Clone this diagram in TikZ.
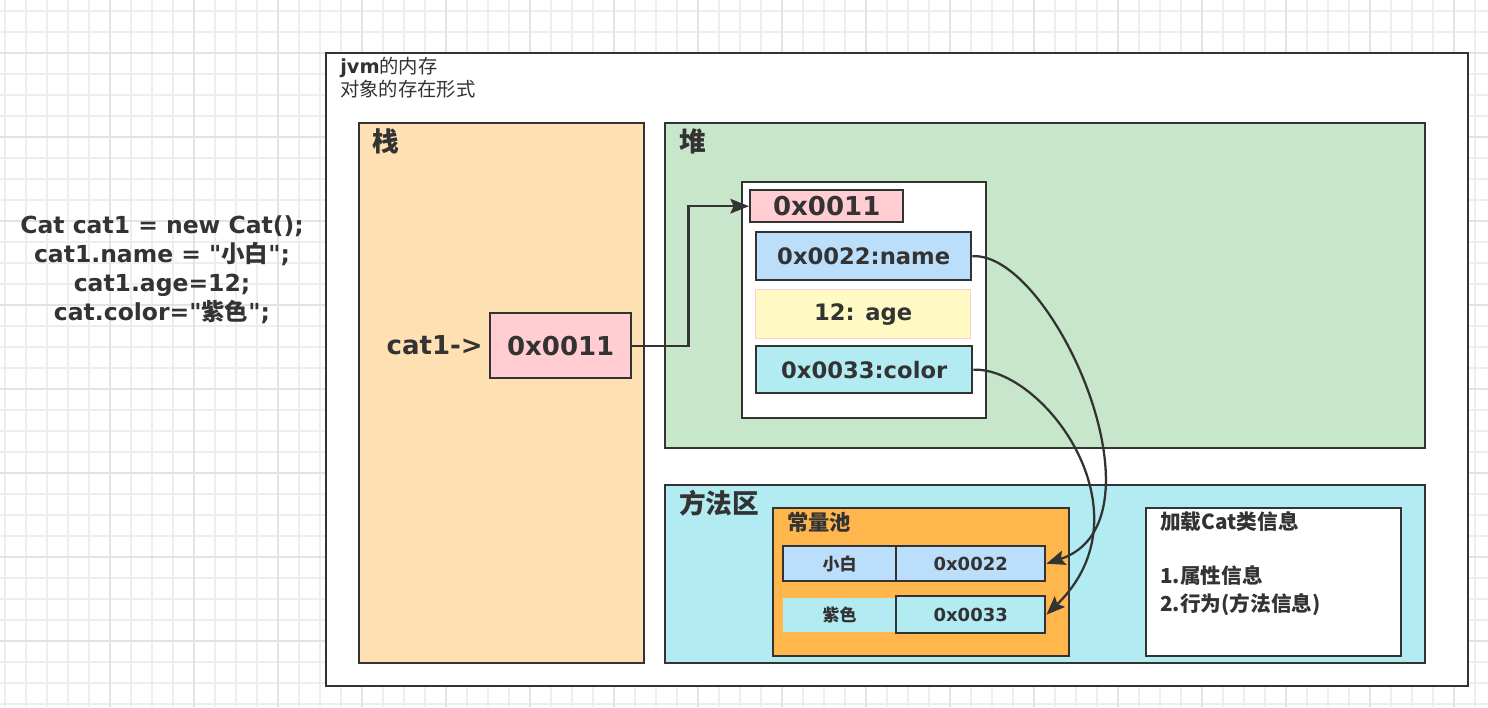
\documentclass[tikz,border=0pt]{standalone}
\usepackage{fontspec}
\setmainfont{DejaVu Sans}
\newfontfamily\cjk{Noto Sans CJK SC}
\usetikzlibrary{arrows.meta}

\definecolor{ink}{HTML}{333333}
\definecolor{gridc}{HTML}{EEEEEE}
\definecolor{gridm}{HTML}{E3E3E3}
\definecolor{stackc}{HTML}{FFE0B2}
\definecolor{heapc}{HTML}{C8E6C9}
\definecolor{methodc}{HTML}{B2EBF2}
\definecolor{pinkc}{HTML}{FFCDD2}
\definecolor{bluec}{HTML}{BBDEFB}
\definecolor{yellowc}{HTML}{FFF9C4}
\definecolor{orangec}{HTML}{FFB74D}

\newdimen\pxu
\pxu=0.75pt

\tikzset{
    area/.style={draw=ink, line width=1.8pt, anchor=north west, inner sep=0pt},
    cell/.style={area, text=ink, font=\bfseries\fontsize{17}{20}\selectfont},
    small/.style={area, text=ink, font=\bfseries\fontsize{13.5}{16}\selectfont},
    title/.style={anchor=west, inner sep=0pt, text=ink, font=\cjk\bfseries\fontsize{20}{24}\selectfont},
    gridline/.style={gridc, line width=0.9pt},
    gridmajor/.style={gridm, line width=1.1pt},
    link/.style={draw=ink, line width=1.7pt, -{Stealth[length=14pt, width=11pt, inset=2.5pt]}},
}

\begin{document}
\begin{tikzpicture}[x=0.75pt, y=-0.75pt]
        \useasboundingbox (0,0) rectangle (1488,707);

        % background grid
        \foreach \gx in {5,26,...,1488} \draw[gridline] (\gx,0) -- (\gx,707);
        \foreach \gy in {11,32,...,707} \draw[gridline] (0,\gy) -- (1488,\gy);
        \foreach \gx in {110,194,...,1488} \draw[gridmajor] (\gx,0) -- (\gx,707);
        \foreach \gy in {53,137,...,707} \draw[gridmajor] (0,\gy) -- (1488,\gy);

        % source code
        \node[align=center, text=ink, font=\bfseries\fontsize{17.6}{21.75}\selectfont] (src) at (162,270)
            {Cat cat1 = new Cat();\\cat1.name = \textquotedbl{\cjk 小白}\textquotedbl;\\cat1.age=12;\\cat.color=\textquotedbl{\cjk 紫色}\textquotedbl;};

        % jvm memory
        \node[area, fill=white, minimum width=1142\pxu, minimum height=633\pxu] (jvm) at (325,52) {};
        \node[anchor=west, inner sep=0pt, text=ink, font=\fontsize{14.5}{16}\selectfont] (head1) at (340,67) {\textbf{jvm}{\cjk 的内存}};
        \node[anchor=west, inner sep=0pt, text=ink, font=\cjk\fontsize{14.5}{16}\selectfont] (head2) at (340,89) {对象的存在形式};

        \node[area, fill=stackc, minimum width=285\pxu, minimum height=540\pxu] (stack) at (358,122) {};
        \node[title] at (372,141) {栈};
        \node[area, fill=heapc, minimum width=760\pxu, minimum height=325\pxu] (heap) at (664,122) {};
        \node[title] at (679,141) {堆};
        \node[area, fill=methodc, minimum width=760\pxu, minimum height=178\pxu] (method) at (664,484) {};
        \node[title] at (679,503) {方法区};

        % stack
        \node[cell, fill=pinkc, minimum width=141\pxu, minimum height=65\pxu, font=\bfseries\fontsize{19.5}{22}\selectfont] (ref) at (489,312) {0x0011};
        \node[anchor=east, inner sep=0pt, text=ink, font=\bfseries\fontsize{19.5}{22}\selectfont] (lbl) at ([xshift=-6\pxu]ref.west) {cat1->};

        % heap object
        \node[area, fill=white, minimum width=244\pxu, minimum height=236\pxu] (obj) at (741,181) {};
        \node[cell, fill=pinkc, minimum width=153\pxu, minimum height=32\pxu, font=\bfseries\fontsize{19.5}{22}\selectfont] (hdr) at (749,189) {0x0011};
        \node[cell, fill=bluec, minimum width=215\pxu, minimum height=48\pxu] (namef) at (755,231) {0x0022:name};
        \node[cell, fill=yellowc, draw=pinkc, line width=1pt, minimum width=215\pxu, minimum height=49\pxu] (agef) at (755,289) {12: age};
        \node[cell, fill=methodc, minimum width=216\pxu, minimum height=47\pxu] (colorf) at (755,345) {0x0033:color};

        % method area
        \node[area, fill=orangec, minimum width=296\pxu, minimum height=148\pxu] (pool) at (772,507) {};
        \node[title, font=\cjk\bfseries\fontsize{16}{18}\selectfont] at (787,522) {常量池};
        \node[small, fill=bluec, minimum width=113\pxu, minimum height=35\pxu, font=\cjk\bfseries\fontsize{12.75}{15}\selectfont] (xb) at (782,545) {小白};
        \node[small, fill=bluec, minimum width=149\pxu, minimum height=35\pxu] (a22) at (895,545) {0x0022};
        \node[small, draw=none, fill=methodc, minimum width=113\pxu, minimum height=34\pxu, font=\cjk\bfseries\fontsize{12.75}{15}\selectfont] (zs) at (782,597) {紫色};
        \node[small, fill=methodc, minimum width=149\pxu, minimum height=37\pxu] (a33) at (895,595) {0x0033};

        \node[area, fill=white, minimum width=255\pxu, minimum height=148\pxu] (info) at (1145,507) {};
        \node[anchor=north west, inner sep=0pt, align=left, text=ink, font=\cjk\bfseries\fontsize{15.5}{20.5}\selectfont] (infot) at (1160,511)
            {加载Cat类信息\\~\\1.属性信息\\2.行为(方法信息)};

        % links
        \draw[link] (ref.east) -- ++(56,0) |- (hdr.west);
        \draw[link] (namef.east) .. controls +(80,-5) and +(126,-42) .. (a22.east);
        \draw[link] (colorf.east) .. controls +(69,-3) and +(106,-103) .. (a33.east);
    \end{tikzpicture}
\end{document}
